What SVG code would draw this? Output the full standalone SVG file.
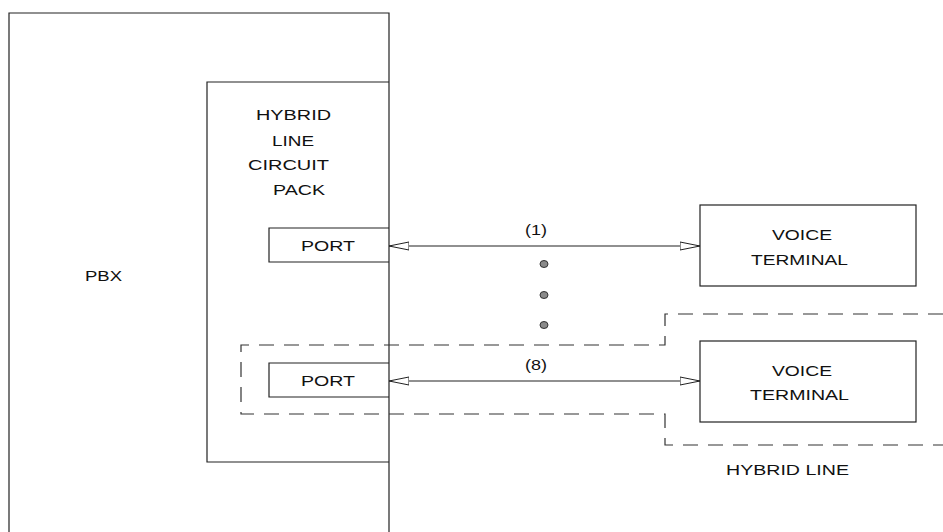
<svg xmlns="http://www.w3.org/2000/svg" width="943" height="532" viewBox="0 0 943 532">
<style>
.box{fill:none;stroke:#222;stroke-width:1.2}
.dash{fill:none;stroke:#333;stroke-width:1.2;stroke-dasharray:15 10}
.conn{fill:none;stroke:#222;stroke-width:1.2}
text{font-family:"Liberation Sans",Arial,sans-serif;font-size:15.5px;fill:#111}
.dot{fill:#8a8a8a;stroke:#333;stroke-width:1}
</style>
<defs>
<marker id="arr" viewBox="0 0 20 10" refX="20" refY="5" markerWidth="20" markerHeight="10" markerUnits="userSpaceOnUse" orient="auto-start-reverse">
<path d="M0,1 L20,5 L0,9 Z" fill="#fff" stroke="#222" stroke-width="1"/>
</marker>
</defs>
<rect width="943" height="532" fill="#fff"/>
<g id="pbx">
<path class="box" d="M9,540 V13 H389 V540"/>
<text x="85" y="281" textLength="37" lengthAdjust="spacingAndGlyphs">PBX</text>
</g>
<g id="circuit-pack">
<path class="box" d="M389,82 H207 V462 H389"/>
<text x="256" y="120" textLength="75" lengthAdjust="spacingAndGlyphs">HYBRID</text>
<text x="272" y="146" textLength="42" lengthAdjust="spacingAndGlyphs">LINE</text>
<text x="248" y="170" textLength="81" lengthAdjust="spacingAndGlyphs">CIRCUIT</text>
<text x="273" y="195" textLength="52" lengthAdjust="spacingAndGlyphs">PACK</text>
</g>
<g id="port1">
<path class="box" d="M389,228 H269 V262 H389"/>
<text x="301" y="251" textLength="54" lengthAdjust="spacingAndGlyphs">PORT</text>
</g>
<g id="port2">
<path class="box" d="M389,363 H269 V397 H389"/>
<text x="301" y="386" textLength="54" lengthAdjust="spacingAndGlyphs">PORT</text>
</g>
<g id="terminal1">
<rect class="box" x="700" y="205" width="216" height="81"/>
<text x="772" y="240" textLength="60" lengthAdjust="spacingAndGlyphs">VOICE</text>
<text x="751" y="265" textLength="97" lengthAdjust="spacingAndGlyphs">TERMINAL</text>
</g>
<g id="terminal2">
<rect class="box" x="700" y="341" width="216" height="81"/>
<text x="772" y="376" textLength="60" lengthAdjust="spacingAndGlyphs">VOICE</text>
<text x="750" y="400" textLength="99" lengthAdjust="spacingAndGlyphs">TERMINAL</text>
</g>
<g id="hybrid-line">
<path class="dash" d="M943,314 H665 V345 H241 V414 H665 V445 H943"/>
<text x="726" y="475" textLength="123" lengthAdjust="spacingAndGlyphs">HYBRID LINE</text>
</g>
<g id="connectors">
<line class="conn" x1="389" y1="246" x2="700" y2="246" marker-start="url(#arr)" marker-end="url(#arr)"/>
<line class="conn" x1="389" y1="381" x2="700" y2="381" marker-start="url(#arr)" marker-end="url(#arr)"/>
<text x="525" y="235" textLength="22" lengthAdjust="spacingAndGlyphs">(1)</text>
<text x="525" y="370" textLength="22" lengthAdjust="spacingAndGlyphs">(8)</text>
<ellipse class="dot" cx="544" cy="264" rx="4" ry="3.5"/>
<ellipse class="dot" cx="544" cy="295" rx="4" ry="3.5"/>
<ellipse class="dot" cx="544" cy="325" rx="4" ry="3.5"/>
</g>
</svg>
